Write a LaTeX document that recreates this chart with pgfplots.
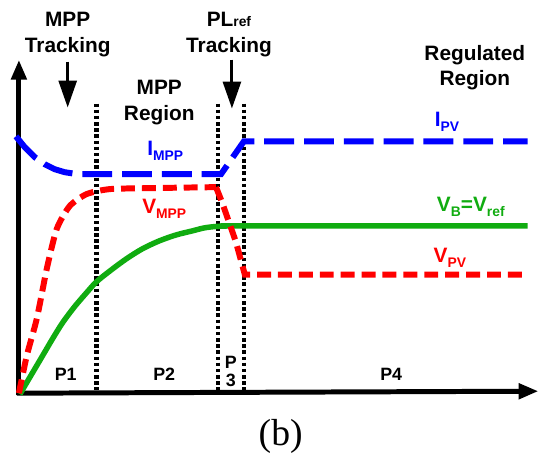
\documentclass[border=0pt]{standalone}
\usepackage{pgfplots}
\pgfplotsset{compat=1.18}
\usepackage{fontspec}
\setmainfont{Liberation Sans}
\newfontfamily\serif{Liberation Serif}
\usetikzlibrary{arrows.meta}
\definecolor{cblue}{RGB}{0,0,255}
\definecolor{cred}{RGB}{255,0,0}
\definecolor{cgreen}{RGB}{16,172,16}
\begin{document}
\begin{tikzpicture}
\begin{axis}[width=541bp,height=461bp,scale only axis,
  xmin=0,xmax=541,ymin=0,ymax=461,y dir=reverse,
  hide axis,clip=false]
% bounding frame (invisible)
\addplot[draw=none] coordinates {(0,0)(541,461)};
% axes
\addplot[black,line width=5bp,-{Triangle[length=20bp,width=15bp]}] coordinates {(19,397)(19,60)};
\addplot[black,line width=5bp,-{Triangle[length=20bp,width=15bp]}] coordinates {(17,395)(541,393)};
% dotted separators
\addplot[black,line width=4.2bp,dash pattern=on 3.6bp off 2.6bp] coordinates {(97,104)(97,392)};
\addplot[black,line width=4.2bp,dash pattern=on 3.6bp off 2.6bp] coordinates {(219,104)(219,392)};
\addplot[black,line width=4.2bp,dash pattern=on 3.6bp off 2.6bp] coordinates {(245,104)(245,392)};
% green V_B
\addplot[cgreen,line width=5.5bp,smooth] coordinates {(20,396)(30,379)(43,357)(53,340)(63,324)(75,308)(87,294)(97,283)(112,271)(127,260)(143,250)(160,242)(177,236)(193,232)(205,229)(217,227.5)(230,227)(243,227)(530,227)};
% red V
\addplot[cred,line width=6bp,dash pattern=on 14bp off 7bp,smooth,tension=0.4] coordinates {(19,395)(27,357)(37,320)(47,270)(57,230)(70,207)(87,195)(110,190)(150,189)(217,188)};
\addplot[cred,line width=6bp,dash pattern=on 14bp off 7bp] coordinates {(217,188)(223,203)(237,243)(246,276)(530,276)};
% blue I
\addplot[cblue,line width=6bp,dash pattern=on 30bp off 10bp] coordinates {(16,137)(25,148)(35,158)(45,165)(55,170)(65,173)(78,175)(222,175)(245,142)(530,142)};
% arrows from labels
\addplot[black,line width=3bp,-{Triangle[length=27bp,width=18bp]}] coordinates {(68,62)(68,108)};
\addplot[black,line width=3bp,-{Triangle[length=27bp,width=18bp]}] coordinates {(233,60)(233,109)};
% labels
\node[font=\fontsize{21}{26}\selectfont\bfseries,align=center] at (axis cs:68,35) {MPP\\Tracking};
\node[font=\fontsize{21}{26}\selectfont\bfseries,align=center] at (axis cs:230,35) {PL{\fontsize{14}{15}\selectfont ref}\\Tracking};
\node[font=\fontsize{21}{26}\selectfont\bfseries,align=center] at (axis cs:160,103) {MPP\\Region};
\node[font=\fontsize{21}{26}\selectfont\bfseries,align=center] at (axis cs:477,68) {Regulated\\Region};
\node[font=\fontsize{21}{25}\selectfont\bfseries,text=cblue] at (axis cs:166,152) {I\raisebox{-5bp}{\fontsize{14}{15}\selectfont MPP}};
\node[font=\fontsize{21}{25}\selectfont\bfseries,text=cblue] at (axis cs:449,122) {I\raisebox{-5bp}{\fontsize{14}{15}\selectfont PV}};
\node[font=\fontsize{21}{25}\selectfont\bfseries,text=cred] at (axis cs:165,210) {V\raisebox{-5bp}{\fontsize{14}{15}\selectfont MPP}};
\node[font=\fontsize{21}{25}\selectfont\bfseries,text=cred] at (axis cs:452,259) {V\raisebox{-5bp}{\fontsize{14}{15}\selectfont PV}};
\node[font=\fontsize{21}{25}\selectfont\bfseries,text=cgreen] at (axis cs:473,208) {V\raisebox{-5bp}{\fontsize{14}{15}\selectfont B}=V\raisebox{-5bp}{\fontsize{14}{15}\selectfont ref}};
\node[font=\fontsize{18}{20}\selectfont\bfseries] at (axis cs:66,376) {P1};
\node[font=\fontsize{18}{20}\selectfont\bfseries] at (axis cs:165,376) {P2};
\node[font=\fontsize{18}{18}\selectfont\bfseries,align=center] at (axis cs:232,373) {P\\3};
\node[font=\fontsize{18}{20}\selectfont\bfseries] at (axis cs:393,376) {P4};
\node[font=\fontsize{38}{40}\selectfont\serif] at (axis cs:282,438) {(b)};
\end{axis}
\end{tikzpicture}
\end{document}
